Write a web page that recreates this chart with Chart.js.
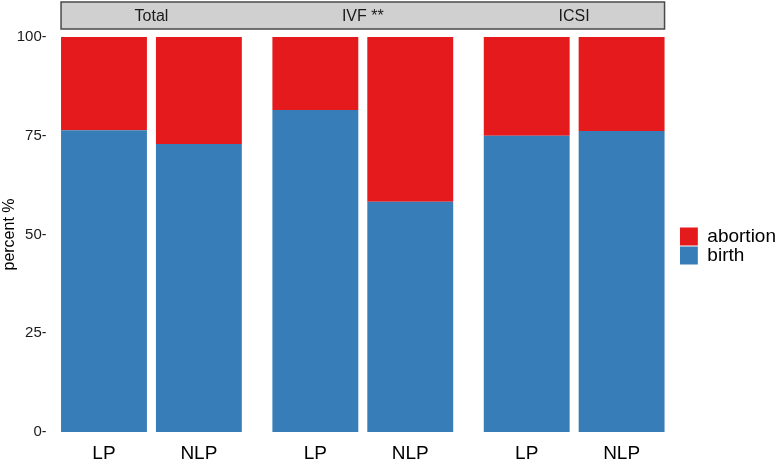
<!DOCTYPE html>
<html>
<head>
<meta charset="utf-8">
<script src="https://cdn.jsdelivr.net/npm/chart.js@4"></script>
<style>
  html, body { margin: 0; padding: 0; background: #fff; overflow: hidden; }
  #wrap { position: relative; width: 781px; height: 460px; }
</style>
</head>
<body>
<div id="wrap"><canvas id="chart" width="781" height="460"></canvas></div>
<script>
// facets and the two groups inside each facet
const panels = ['Total', 'IVF **', 'ICSI'];
const groups = ['LP', 'NLP'];

// percent of outcomes
const birthLP = [76.4, 81.5, 75.0];
const abortionLP = [23.6, 18.5, 25.0];
const birthNLP = [72.9, 58.3, 76.2];
const abortionNLP = [27.1, 41.7, 23.8];

const yTicks = [0, 25, 50, 75, 100];

const BLUE = '#377EB8';
const RED = '#E41A1C';
const FONT = "'Liberation Sans', Arial, sans-serif";

// grey facet strip on top, and LP / NLP under every bar
const facetStrip = {
  id: 'facetStrip',
  beforeDraw(chart) {
    const { ctx } = chart;
    const top = chart.scales.x2;
    const first = chart.getDatasetMeta(0).data[0];
    const last = chart.getDatasetMeta(3).data[panels.length - 1];
    const left = first.x - first.width / 2;
    const right = last.x + last.width / 2;
    ctx.save();
    ctx.fillStyle = '#D0D0D0';
    ctx.strokeStyle = '#4a4a4a';
    ctx.lineWidth = 1.5;
    ctx.fillRect(left, top.top, right - left, 27);
    ctx.strokeRect(left, top.top, right - left, 27);
    ctx.restore();
  },
  afterDraw(chart) {
    const { ctx } = chart;
    ctx.save();
    ctx.font = '19px ' + FONT;
    ctx.fillStyle = '#000';
    ctx.textAlign = 'center';
    ctx.textBaseline = 'alphabetic';
    [0, 2].forEach((di, g) => {
      chart.getDatasetMeta(di).data.forEach(bar => {
        ctx.fillText(groups[g], bar.x, 459);
      });
    });
    ctx.restore();
  }
};

new Chart(document.getElementById('chart').getContext('2d'), {
  type: 'bar',
  data: {
    labels: panels,
    datasets: [
      { label: 'birth', data: birthLP, stack: 'LP', backgroundColor: BLUE },
      { label: 'abortion', data: abortionLP, stack: 'LP', backgroundColor: RED },
      { label: 'birth', data: birthNLP, stack: 'NLP', backgroundColor: BLUE },
      { label: 'abortion', data: abortionNLP, stack: 'NLP', backgroundColor: RED }
    ]
  },
  options: {
    responsive: false,
    animation: false,
    categoryPercentage: 0.898,
    barPercentage: 0.905,
    layout: { padding: { top: 2, right: -5, bottom: 28, left: 0 } },
    plugins: {
      tooltip: { enabled: false },
      legend: {
        position: 'right',
        reverse: true,
        title: { display: true, text: ' ', font: { size: 20 }, padding: { top: 0, bottom: 34 } },
        labels: {
          boxWidth: 18,
          boxHeight: 18,
          padding: 0,
          color: '#000',
          font: { size: 19, family: FONT },
          filter: item => item.datasetIndex < 2
        }
      }
    },
    scales: {
      x: {
        stacked: true,
        display: false,
        offset: true
      },
      x2: {
        type: 'category',
        position: 'top',
        offset: true,
        grid: { display: false, drawTicks: false },
        border: { display: false },
        ticks: { color: '#1a1a1a', font: { size: 16, family: FONT }, padding: 11 },
        afterFit: s => { s.height = 35; }
      },
      y: {
        stacked: true,
        min: 0,
        max: 100,
        afterBuildTicks: s => { s.ticks = yTicks.map(v => ({ value: v })); },
        grid: { display: false, drawTicks: false },
        border: { display: false },
        ticks: {
          color: '#1a1a1a',
          font: { size: 15, family: FONT },
          padding: -1,
          callback: v => v + '-'
        },
        title: {
          display: true,
          text: 'percent %',
          color: '#000',
          font: { size: 16, family: FONT },
          padding: 0
        },
        afterFit: s => { s.width = 45.75; }
      }
    }
  },
  plugins: [facetStrip]
});
</script>
</body>
</html>
